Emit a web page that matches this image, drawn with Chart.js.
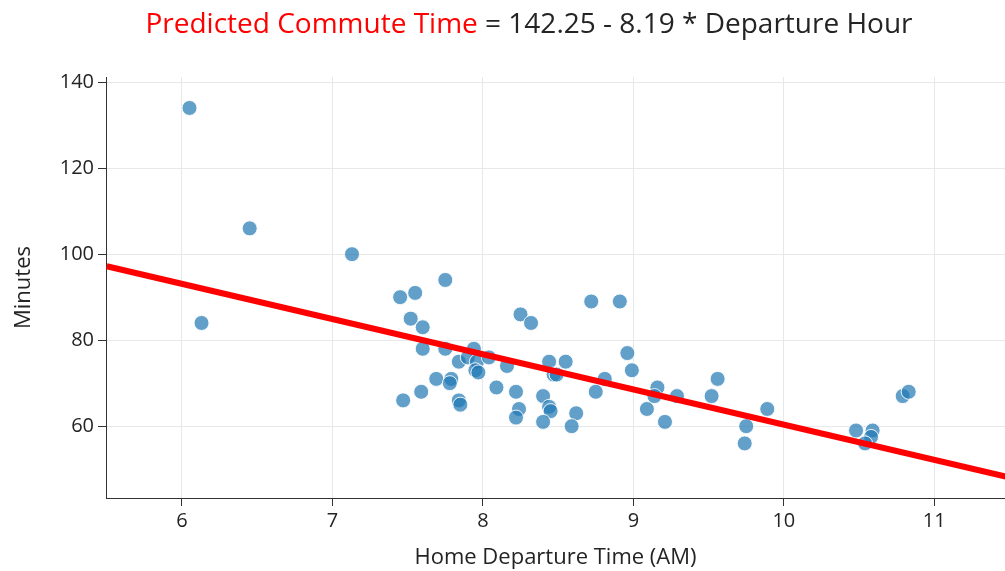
<!DOCTYPE html>
<html lang="en">
<head>
<meta charset="UTF-8">
<title>Commute Time</title>
<script src="https://cdn.jsdelivr.net/npm/chart.js@4.4.0/dist/chart.umd.min.js"></script>
<style>
    html, body { margin:0; padding:0; background:#fff; }
    #wrap { position:relative; width:1005px; height:571px; }
    #title {
        position:absolute; top:5px; left:529px; transform:translateX(-50%);
        white-space:nowrap; font-family:"Open Sans", sans-serif; font-size:28px;
        color:rgb(36,36,36); line-height:34px;
    }
    #title .red { color:#ff0000; }
</style>
</head>
<body>
<div id="wrap">
    <div id="title"><span class="red">Predicted Commute Time</span> = 142.25 - 8.19 * Departure Hour</div>
    <canvas id="chart" width="1005" height="571"></canvas>
</div>
<script>
// departure hour (AM) and commute minutes
var depHours = [6.05, 6.13, 6.45, 7.13,
    7.45, 7.55, 7.52, 7.60, 7.60, 7.75, 7.75,
    7.47, 7.59, 7.69, 7.79, 7.78, 7.84, 7.85, 7.84,
    7.94, 7.90, 7.96, 8.04, 7.95, 7.97,
    8.09, 8.16, 8.25, 8.32, 8.22, 8.24, 8.22,
    8.40, 8.44, 8.45, 8.40, 8.44, 8.55, 8.47, 8.49,
    8.62, 8.59,
    8.72, 8.91, 8.96, 8.99, 8.81, 8.75,
    9.09, 9.16, 9.14, 9.21, 9.29,
    9.56, 9.52, 9.89, 9.75, 9.74,
    10.48, 10.59, 10.58, 10.54, 10.79, 10.83];
var minutes = [134, 84, 106, 100,
    90, 91, 85, 83, 78, 94, 78,
    66, 68, 71, 71, 70, 66, 65, 75,
    78, 76, 75, 76, 73, 72.5,
    69, 74, 86, 84, 68, 64, 62,
    67, 64.5, 63.5, 61, 75, 75, 72, 72,
    63, 60,
    89, 89, 77, 73, 71, 68,
    64, 69, 67, 61, 67,
    71, 67, 64, 60, 56,
    59, 59, 57.5, 56, 67, 68];

// regression line end points
var fitX = [5.5, 11.5];
var fitY = [97.2, 48.1];

var xTicks = [6, 7, 8, 9, 10, 11];
var yTicks = [60, 80, 100, 120, 140];

var textColor = 'rgb(36,36,36)';
var fontFamily = '"Open Sans", sans-serif';

var points = depHours.map(function(h, i){ return {x:h, y:minutes[i]}; });
var fitLine = fitX.map(function(x, i){ return {x:x, y:fitY[i]}; });

new Chart(document.getElementById('chart'), {
    type: 'scatter',
    data: {
        datasets: [{
            label: 'fit',
            type: 'line',
            data: fitLine,
            borderColor: '#ff0000',
            borderWidth: 6,
            pointRadius: 0,
            fill: false,
            order: 0
        }, {
            label: 'trips',
            data: points,
            backgroundColor: 'rgba(31,119,180,0.7)',
            borderColor: 'rgba(255,255,255,0.9)',
            borderWidth: 1,
            pointRadius: 7.5,
            order: 1
        }]
    },
    options: {
        responsive: false,
        animation: false,
        events: [],
        // no auto padding for point overflow, the plot runs to the right edge
        layout: { autoPadding: false, padding: { top: 77, right: 0, left: 0, bottom: 0 } },
        plugins: { legend: { display: false }, tooltip: { enabled: false } },
        scales: {
            x: {
                type: 'linear',
                min: 5.495,
                max: 11.47,
                afterBuildTicks: function(scale){ scale.ticks = xTicks.map(function(v){ return {value:v}; }); },
                afterFit: function(scale){
                    scale.height = 73;
                    scale.paddingLeft = 0;
                    scale.paddingRight = 0;
                },
                grid: { color: '#e8e8e8', lineWidth: 1, tickLength: 8, tickColor: '#333' },
                border: { color: '#333', width: 1 },
                ticks: { color: textColor, font: { family: fontFamily, size: 20 }, padding: 3, maxRotation: 0 },
                title: { display: true, text: 'Home Departure Time (AM)', color: textColor,
                    font: { family: fontFamily, size: 22 }, padding: { top: 0, bottom: 0 } }
            },
            y: {
                type: 'linear',
                min: 43.3,
                max: 141.2,
                afterBuildTicks: function(scale){ scale.ticks = yTicks.map(function(v){ return {value:v}; }); },
                afterFit: function(scale){
                    scale.width = 106;
                    scale.paddingTop = 0;
                    scale.paddingBottom = 0;
                },
                grid: { color: '#e8e8e8', lineWidth: 1, tickLength: 8, tickColor: '#333' },
                border: { color: '#333', width: 1 },
                ticks: { color: textColor, font: { family: fontFamily, size: 20 }, padding: 4 },
                title: { display: true, text: 'Minutes', color: textColor,
                    font: { family: fontFamily, size: 22 }, padding: { top: 11, bottom: 0 } }
            }
        }
    }
});
</script>
</body>
</html>
